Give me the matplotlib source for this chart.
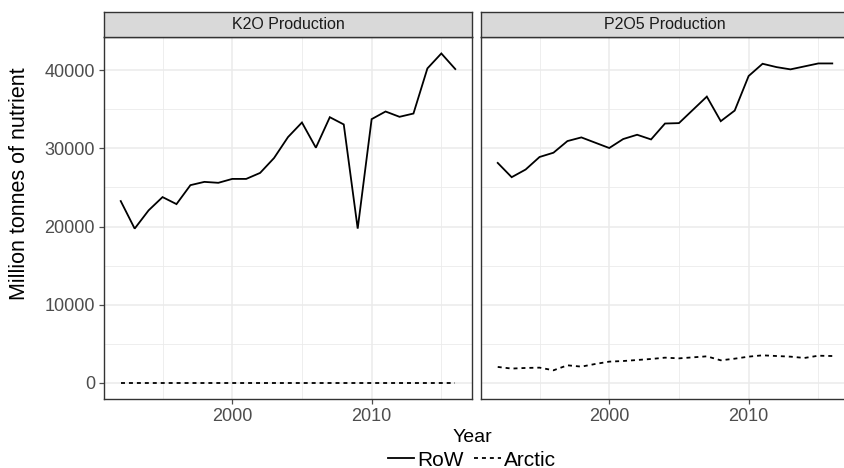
import numpy as np
import matplotlib
matplotlib.use("Agg")
import matplotlib.pyplot as plt
from matplotlib.lines import Line2D

plt.rcParams['font.family'] = ['Liberation Sans', 'DejaVu Sans']

years = list(range(1992, 2017))

k2o_row = [23260, 19730, 22070, 23770, 22870, 25300, 25720, 25600, 26100, 26100,
           26870, 28780, 31460, 33330, 30100, 34010, 33080, 19730, 33760, 34740,
           34060, 34480, 40260, 42180, 40180]
k2o_arctic = [0] * 25

p2o5_row = [28150, 26320, 27300, 28910, 29460, 30950, 31420, 30740, 30060, 31210,
            31760, 31160, 33200, 33250, 34950, 36650, 33500, 34860, 39290, 40860,
            40430, 40140, 40520, 40900, 40900]
p2o5_arctic = [2000, 1790, 1870, 1910, 1570, 2210, 2040, 2380, 2680, 2760,
               2890, 3020, 3190, 3100, 3230, 3360, 2850, 3060, 3320, 3490,
               3400, 3320, 3150, 3440, 3400]

panels = [("K2O Production", k2o_row, k2o_arctic),
          ("P2O5 Production", p2o5_row, p2o5_arctic)]

W, H = 844, 468
fig = plt.figure(figsize=(W / 100, H / 100), dpi=100)

border = "#333333"
grid_col = "#EBEBEB"
tick_col = "#4D4D4D"

ymax = max(max(k2o_row), max(p2o5_row))
ylim = (-0.05 * ymax, 1.05 * ymax)
xlim = (years[0] - 0.05 * (years[-1] - years[0]), years[-1] + 0.05 * (years[-1] - years[0]))

lefts = [104, 481]
for i, (title, row, arctic) in enumerate(panels):
    x0 = lefts[i]
    ax = fig.add_axes([x0 / W, 1 - 399 / H, 368 / W, (399 - 37) / H])
    ax.plot(years, row, color="black", lw=1.3, solid_joinstyle="miter")
    ax.plot(years, arctic, color="black", lw=1.3, linestyle=(0, (2.2, 2.2)))
    ax.set_xlim(*xlim)
    ax.set_ylim(*ylim)
    ax.set_xticks([2000, 2010])
    ax.set_xticks([1995, 2005, 2015], minor=True)
    ax.set_yticks([0, 10000, 20000, 30000, 40000])
    ax.set_yticks([5000, 15000, 25000, 35000], minor=True)
    ax.grid(which="major", color=grid_col, lw=1.1)
    ax.grid(which="minor", color=grid_col, lw=0.6)
    ax.set_axisbelow(True)
    for s in ax.spines.values():
        s.set_color(border)
        s.set_linewidth(1.0)
    ax.tick_params(which="minor", length=0)
    ax.tick_params(which="major", length=3.5, width=0.9, color=tick_col,
                   labelcolor=tick_col, labelsize=13, pad=3)
    if i > 0:
        ax.tick_params(axis="y", left=False, labelleft=False)

    sax = fig.add_axes([x0 / W, 1 - 37 / H, 368 / W, 25 / H])
    sax.set_facecolor("#D9D9D9")
    sax.set_xticks([])
    sax.set_yticks([])
    for s in sax.spines.values():
        s.set_color(border)
        s.set_linewidth(1.0)
    sax.text(0.5, 0.5, title, ha="center", va="center", fontsize=11.5,
             color="#1A1A1A", transform=sax.transAxes)

fig.text(20 / W, 1 - 184 / H, "Million tonnes of nutrient", rotation=90,
         ha="center", va="center", fontsize=15.5, color="black")
fig.text(472 / W, 1 - 438 / H, "Year", ha="center", va="center",
         fontsize=14, color="black")

handles = [Line2D([], [], color="black", lw=1.3),
           Line2D([], [], color="black", lw=1.3, linestyle=(0, (2.2, 2.2)))]
fig.legend(handles, ["RoW", "Arctic"], loc="center", ncol=2,
           bbox_to_anchor=(472 / W, 1 - 460 / H), frameon=False, fontsize=15,
           handlelength=1.25, handletextpad=0.15, columnspacing=0.5,
           borderpad=0, borderaxespad=0)

fig.savefig("out.png", dpi=100)
